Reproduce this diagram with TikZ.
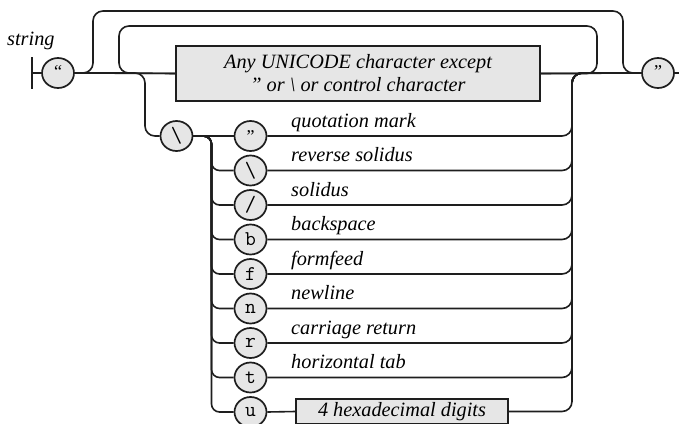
\documentclass[tikz,border=0pt]{standalone}
\usepackage{fontspec}
\setmainfont{Liberation Serif}
\usetikzlibrary{shapes.geometric}
\definecolor{lc}{HTML}{1E1E1E}
\definecolor{fc}{HTML}{E6E6E6}
\newcommand\labfont{\fontsize{20.3}{23}\selectfont\itshape}
\newcommand\ttcharfont{\fontsize{21}{21}\selectfont\ttfamily}
\newcommand\qfont{\fontsize{18}{18}\selectfont}
\begin{document}
\begin{tikzpicture}[x=1pt,y=-1pt]
\tikzset{
  ln/.style={draw=lc, line width=1.6pt},
  rr/.style={draw=lc, line width=1.6pt, rounded corners=10pt},
  rs/.style={draw=lc, line width=1.6pt, rounded corners=8pt},
  tcirc/.style={ellipse, draw=lc, fill=fc, line width=1.7pt, minimum width=32pt, minimum height=30pt, inner sep=0pt, font=\ttcharfont},
  nbox/.style={rectangle, draw=lc, fill=fc, line width=1.5pt, inner sep=0pt, font=\labfont, align=center},
  lab/.style={anchor=base west, font=\labfont, inner sep=0pt},
  qlab/.style={anchor=base, font=\qfont, inner sep=0pt},
}
\useasboundingbox (0,0) rectangle (679,423);
% title
\node[lab] (title) at (7,45.5) {string};
% start bar
\coordinate (bt) at (31.7,57);
\coordinate (bb) at (31.7,89);
\coordinate (s0) at (31.7,73);
\coordinate (fin) at (680,73);
\draw[ln] (bt) -- (bb);
% corner points of the loops
\coordinate (oL) at (93,11);
\coordinate (oR) at (623,73);
\coordinate (iR) at (597,26);
\coordinate (iL) at (119,73);
\coordinate (eL) at (145,136);
\coordinate (ex) at (572,73);
% terminals
\node[tcirc] (q1) at (58,73) {};
\node[qlab] (q1t) at (58,77) {“};
\node[tcirc] (q2) at (658,73) {};
\node[qlab] (q2t) at (658,77) {”};
\node[nbox, minimum width=364pt, minimum height=55pt] (box) at (358,73.5)
  {Any UNICODE character except\\” or \textbackslash\ or control character};
\draw[ln] (s0) -- (q1.west);
\draw[ln] (q1.east) -- (box.west);
\draw[ln] (box.east) -- (q2.west);
\draw[ln] (q2.east) -- (fin);
\draw[rr] (q1.east) -| (oL) -| (oR) -- (q2.west);
\draw[rr] (box.east) -| (iR) -| (iL) -- (box.west);
% escape
\node[tcirc, font=\fontsize{22}{22}\selectfont\ttfamily] (bs) at (176.5,136) {\textbackslash};
\draw[rr] (q1.east) -| (eL) -- (bs.west);
% rows
\node[tcirc] (r0) at (250.5,136) {};
\node[qlab] (r0t) at (250.5,142.5) {”};
\draw[ln] (bs.east) -- (r0.west);
\draw[rr] (r0.east) -| (ex) -- (q2.west);
\node[lab] (l0) at (291,127) {quotation mark};
\foreach \i/\y/\c/\t in {1/170.5/{\fontsize{22}{22}\selectfont\textbackslash}/{reverse solidus},
                         2/205/{\fontsize{22}{22}\selectfont/}/solidus,
                         3/239.5/b/backspace,
                         4/274/f/formfeed,
                         5/308.5/n/newline,
                         6/343/r/{carriage return},
                         7/377.5/t/{horizontal tab}} {
  \coordinate (sx\i) at (211.5,\y);
  \node[tcirc] (r\i) at (250.5,\y) {\c};
  \draw[rs] (bs.east) -| (sx\i) -- (r\i.west);
  \draw[rr] (r\i.east) -| (ex) -- (q2.west);
  \node[lab] (l\i) at (291,\y-9) {\t};
}
% u row
\coordinate (sx8) at (211.5,412);
\node[tcirc] (r8) at (250.5,412) {u};
\draw[rs] (bs.east) -| (sx8) -- (r8.west);
\node[nbox, minimum width=212pt, minimum height=25pt] (hex) at (402,411.5) {4 hexadecimal digits};
\draw[ln] (r8.east) -- (hex.west);
\draw[rr] (hex.east) -| (ex) -- (q2.west);
\end{tikzpicture}
\end{document}
